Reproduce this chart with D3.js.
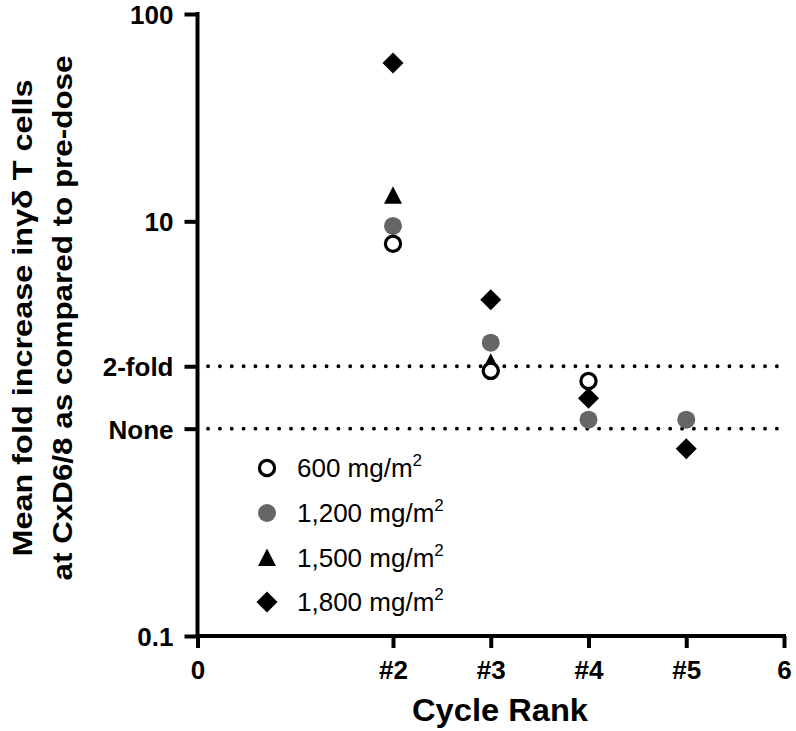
<!DOCTYPE html>
<html><head><meta charset="utf-8">
<script src="https://cdn.jsdelivr.net/npm/d3@7"></script>
<style>body{margin:0;background:#fff}svg{display:block}text{font-family:"Liberation Sans",Arial,Helvetica,sans-serif}</style>
</head><body>
<svg id="c" width="796" height="731"></svg>
<script>
const cycles = [2, 3, 4, 5];
const xTickValues = [0, 2, 3, 4, 5, 6];
const xTickLabels = ["0", "#2", "#3", "#4", "#5", "6"];
const yTickValues = [0.1, 1, 2, 10, 100];
const yTickLabels = ["0.1", "None", "2-fold", "10", "100"];
const refLines = [1, 2];
const seriesNames = ["600", "1,200", "1,500", "1,800"];
const s600  = [7.8, 1.9, 1.70, null];
const s1200 = [9.5, 2.6, 1.105, 1.105];
const s1500 = [13.3, 2.08, null, null];
const s1800 = [58, 4.19, 1.40, 0.80];

const svg = d3.select("#c");
const x = d3.scaleLinear().domain([0, 6]).range([197.5, 784]);
const y = d3.scaleLog().domain([0.1, 100]).range([636, 14]);

// reference dotted lines
svg.selectAll("line.ref").data(refLines).enter().append("line")
  .attr("x1", x(0) + 10.5).attr("x2", x(6)).attr("y1", d => y(d)).attr("y2", d => y(d))
  .attr("stroke", "#000").attr("stroke-width", 3.8).attr("stroke-linecap", "round")
  .attr("stroke-dasharray", "0.1,11.75");

// axes
const yAxis = d3.axisLeft(y).tickValues(yTickValues)
  .tickFormat((d, i) => yTickLabels[i]).tickSize(13).tickSizeOuter(0).tickPadding(11);
const xAxis = d3.axisBottom(x).tickValues(xTickValues)
  .tickFormat((d, i) => xTickLabels[i]).tickSize(12).tickSizeOuter(0).tickPadding(13);

const gy = svg.append("g").attr("transform", `translate(${x(0)},0)`).call(yAxis);
const gx = svg.append("g").attr("transform", `translate(0,${y(0.1)})`).call(xAxis);
[gx, gy].forEach(g => {
  g.select(".domain").attr("stroke", "#000").attr("stroke-width", 4);
  g.selectAll(".tick line").attr("stroke", "#000").attr("stroke-width", 4);
  g.selectAll(".tick text").attr("fill", "#000").attr("font-size", 26).attr("font-weight", "bold")
    .style("font-family", '"Liberation Sans",Arial,sans-serif');
});
gy.selectAll(".tick text").attr("dy", "0.36em");
gy.select(".domain").attr("d", `M0,${y(100) - 2}V${y(0.1) + 2}`);
gx.select(".domain").attr("d", `M${x(0) - 2},0H${x(6) + 2}`);

// axis titles
svg.append("text").attr("x", 500).attr("y", 721).attr("text-anchor", "middle")
  .attr("font-size", 31).attr("font-weight", "bold").attr("textLength", 176).attr("lengthAdjust", "spacingAndGlyphs")
  .text("Cycle Rank");
const yt = svg.append("text").attr("transform", "translate(0,318) rotate(-90)")
  .attr("text-anchor", "middle").attr("font-size", 28).attr("font-weight", "bold");
yt.append("tspan").attr("x", 0).attr("y", 32).attr("textLength", 477).attr("lengthAdjust", "spacingAndGlyphs")
  .text("Mean fold increase in\u03B3\u03B4 T cells");
yt.append("tspan").attr("x", 0).attr("y", 72).attr("textLength", 525).attr("lengthAdjust", "spacingAndGlyphs")
  .text("at CxD6/8 as compared to pre-dose");

// symbols
const sym = {
  "600": (g) => g.append("circle").attr("r", 7.6).attr("fill", "#fff").attr("stroke", "#000").attr("stroke-width", 3.2),
  "1,200": (g) => g.append("circle").attr("r", 9).attr("fill", "#666"),
  "1,500": (g) => g.append("path").attr("d", "M0,-9.5L9,8L-9,8Z").attr("fill", "#000"),
  "1,800": (g) => g.append("path").attr("d", "M0,-10.5L10.5,0L0,10.5L-10.5,0Z").attr("fill", "#000")
};
const allSeries = [s600, s1200, s1500, s1800];
const order = [3, 2, 1, 0];
order.forEach(si => {
  allSeries[si].forEach((v, i) => {
    if (v == null) return;
    const g = svg.append("g").attr("transform", `translate(${x(cycles[i])},${y(v)})`);
    sym[seriesNames[si]](g);
  });
});

// legend
const legY = [468, 513, 558, 602];
seriesNames.forEach((n, i) => {
  const g = svg.append("g").attr("transform", `translate(267,${legY[i]})`);
  sym[n](g);
  const t = svg.append("text").attr("x", 297).attr("y", legY[i] + 9).attr("font-size", 26).attr("fill", "#000");
  t.append("tspan").text(n + " mg/m");
  t.append("tspan").attr("font-size", 17).attr("dy", -11).text("2");
});
</script>
</body></html>
